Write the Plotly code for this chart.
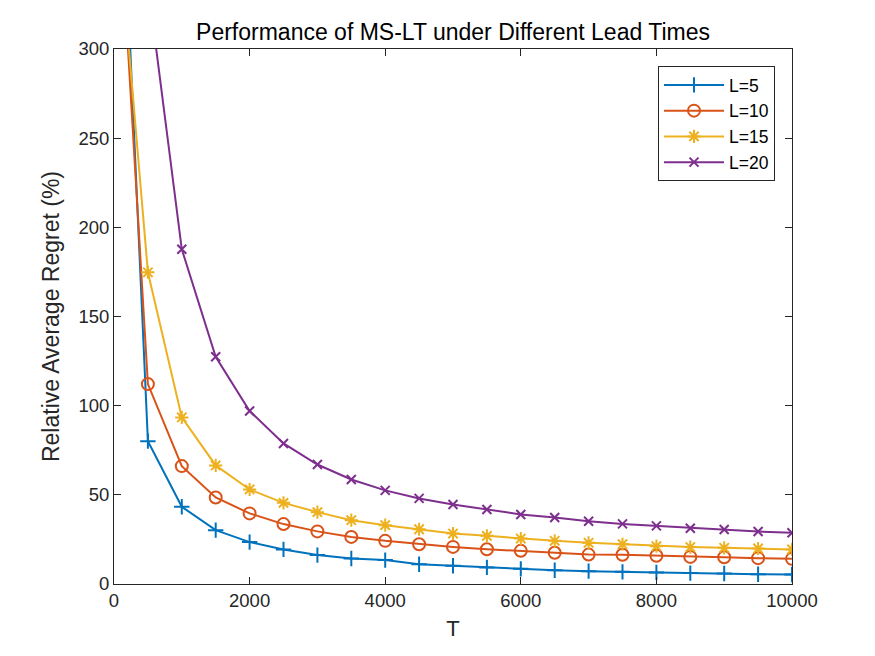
import plotly.graph_objects as go

T = [100, 500, 1000, 1500, 2000, 2500, 3000, 3500, 4000, 4500, 5000,
     5500, 6000, 6500, 7000, 7500, 8000, 8500, 9000, 9500, 10000]

L5 = [418, 80.1, 43.3, 30.2, 23.5, 19.4, 16.2, 14.3, 13.4, 11.1, 10.2,
      9.3, 8.5, 7.7, 7.2, 6.8, 6.5, 6.1, 5.9, 5.5, 5.3]
L10 = [368, 112.1, 66.1, 48.5, 39.6, 33.6, 29.5, 26.4, 24.2, 22.3, 20.8,
       19.5, 18.6, 17.5, 16.5, 16.4, 15.8, 15.2, 15.0, 14.5, 14.1]
L15 = [354, 174.8, 93.4, 66.5, 53.0, 45.5, 40.3, 35.8, 33.0, 30.7, 28.3,
       27.0, 25.5, 24.2, 23.1, 22.3, 21.2, 20.7, 20.3, 19.9, 19.4]
L20 = [600, 336.5, 187.7, 127.4, 97.0, 78.8, 67.0, 58.6, 52.5, 48.0, 44.6,
       41.8, 39.0, 37.3, 35.2, 33.7, 32.6, 31.3, 30.6, 29.4, 28.7]

series = [
    ("L=5", L5, "#0072BD", "cross-thin-open", 11),
    ("L=10", L10, "#D95319", "circle-open", 12),
    ("L=15", L15, "#EDB120", "asterisk-open", 11),
    ("L=20", L20, "#7E2F8E", "x-thin-open", 9),
]

x_ticks = [0, 2000, 4000, 6000, 8000, 10000]
y_ticks = [0, 50, 100, 150, 200, 250, 300]

fig = go.Figure()
for name, vals, color, sym, size in series:
    fig.add_trace(go.Scatter(
        x=T, y=vals, name=name, mode="lines+markers",
        line=dict(color=color, width=2),
        marker=dict(symbol=sym, size=size, color=color,
                    line=dict(color=color, width=2)),
    ))

FONT = "Liberation Sans, Arial"
axis_common = dict(
    showline=True, linecolor="#262626", linewidth=1, mirror="ticks",
    ticks="inside", ticklen=7, tickcolor="#262626", showgrid=False,
    zeroline=False, tickfont=dict(family=FONT, size=18.5, color="#262626"),
)

# page body adds an 8px offset; plot area in screenshot: x 114..792, y 49..584
L_M, T_M = 106, 41
R_M, B_M = 91, 80
pw = 875 - L_M - R_M
ph = 656 - T_M - B_M

fig.update_layout(
    width=875, height=656,
    paper_bgcolor="white", plot_bgcolor="white",
    margin=dict(l=L_M, r=R_M, t=T_M, b=B_M, autoexpand=False),
    title=dict(text="Performance of MS-LT under Different Lead Times",
               x=(L_M + pw / 2) / 875, xanchor="center",
               y=1 - 24 / 656, yanchor="middle",
               font=dict(family=FONT, size=23, color="black")),
    font=dict(family=FONT),
    xaxis=dict(range=[0, 10000], tickvals=x_ticks,
               ticktext=[str(v) for v in x_ticks],
               title=dict(text="T", font=dict(size=22, color="#262626"), standoff=10),
               **axis_common),
    yaxis=dict(range=[0, 300], tickvals=y_ticks,
               ticktext=[str(v) for v in y_ticks],
               title=dict(text="Relative Average Regret (%)",
                          font=dict(size=23, color="#262626"), standoff=12),
               **axis_common),
    legend=dict(x=(775 - 114) / pw, xanchor="right",
                y=(584 - 66) / ph, yanchor="top",
                bgcolor="white", bordercolor="#262626", borderwidth=1,
                font=dict(family=FONT, size=17.5, color="black"),
                tracegroupgap=0, itemwidth=60),
    showlegend=True,
)

fig.write_html("out.html")
